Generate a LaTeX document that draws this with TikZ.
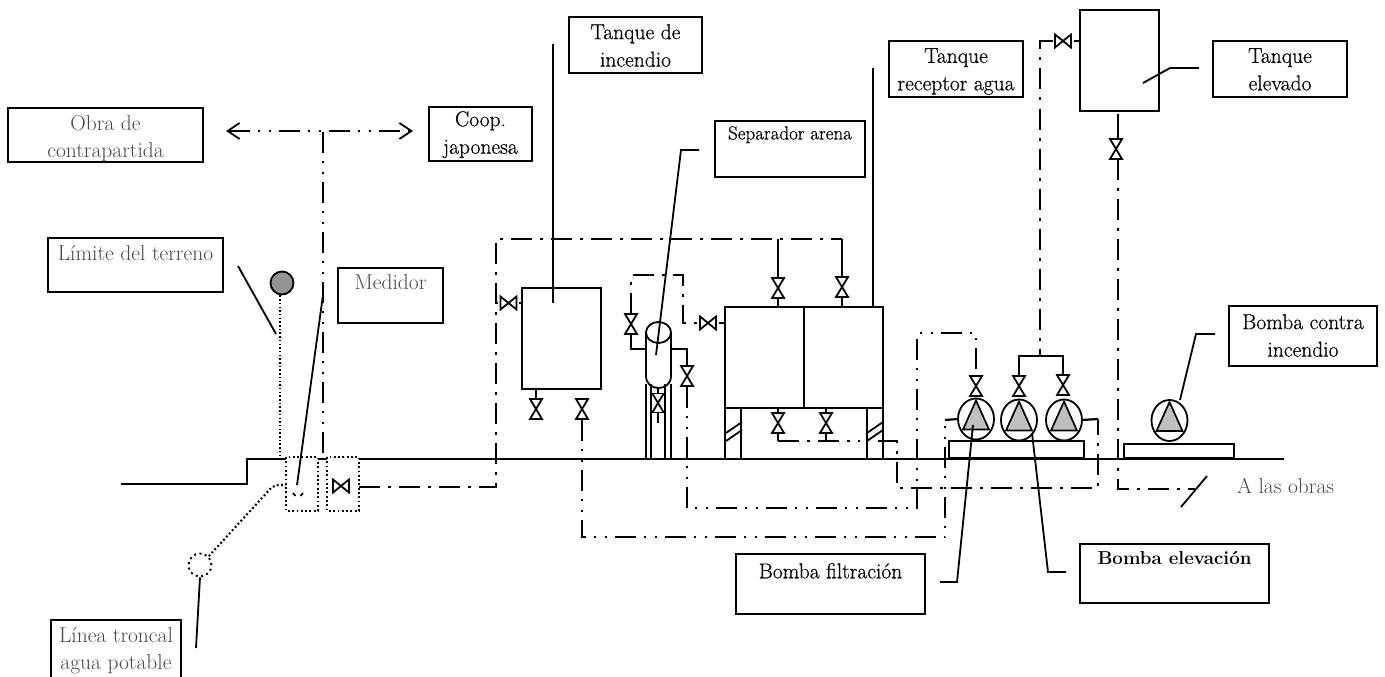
\documentclass[tikz,border=0pt]{standalone}
\usepackage{fontspec}
\setmainfont{Latin Modern Roman}
\newfontfamily\heavy[FakeBold=0.5]{Latin Modern Roman}
\usetikzlibrary{shapes.geometric,arrows.meta,calc}
\tikzset{
  ln/.style={line width=1.8pt,line join=miter},
  thick2/.style={line width=2.2pt},
  dd/.style={line width=2.4pt,dash pattern=on 21pt off 8pt on 3pt off 8pt},
  ddd/.style={line width=2.4pt,dash pattern=on 21pt off 8pt on 2pt off 9pt on 2pt off 8pt},
  dotl/.style={line width=1.8pt,dash pattern=on 1.8pt off 2.5pt},
  lbl/.style={draw,line width=1.8pt,anchor=north west,inner sep=0pt,outer sep=0pt},
  txt/.style={align=center,inner sep=0pt,font=\heavy\fontsize{21.5}{27.5}\selectfont},
  gtxt/.style={align=center,inner sep=0pt,font=\fontsize{21.5}{27.5}\selectfont,text=black!72},
  vvalve/.style={inner sep=0pt,outer sep=0pt,minimum width=15pt,minimum height=21pt,
    path picture={\draw[line width=1.8pt,line join=miter]
      ([shift={(-6,-10)}]path picture bounding box.center)--
      ([shift={(6,10)}]path picture bounding box.center)--
      ([shift={(-6,10)}]path picture bounding box.center)--
      ([shift={(6,-10)}]path picture bounding box.center)--cycle;}},
  hvalve/.style={inner sep=0pt,outer sep=0pt,minimum width=21pt,minimum height=15pt,
    path picture={\draw[line width=1.8pt,line join=miter]
      ([shift={(-8,-6.5)}]path picture bounding box.center)--
      ([shift={(8,6.5)}]path picture bounding box.center)--
      ([shift={(8,-6.5)}]path picture bounding box.center)--
      ([shift={(-8,6.5)}]path picture bounding box.center)--cycle;}},
  pump/.style={ellipse,draw,line width=1.8pt,inner sep=0pt,outer sep=0pt,minimum width=36pt,minimum height=41pt,
    path picture={\draw[line width=1.7pt,fill=black!25,line join=miter]
      ([shift={(0,-18.5)}]path picture bounding box.center)--
      ([shift={(13,10.5)}]path picture bounding box.center)--
      ([shift={(-13,10.5)}]path picture bounding box.center)--cycle;}},
  tank/.style={draw,line width=1.8pt,anchor=north west,inner sep=0pt,outer sep=0pt},
  mbarb/.style={{Straight Barb[length=12pt,width=16pt,line width=1.8pt]}-{Straight Barb[length=12pt,width=16pt,line width=1.8pt]}},
}
\begin{document}
\begin{tikzpicture}[x=1pt,y=-1pt]
\useasboundingbox (0,0) rectangle (1385,677);

% ---- label boxes
\node[lbl,minimum width=195pt,minimum height=54pt,label={[gtxt,anchor=north,yshift=-7pt]north:Obra de\\contrapartida}] (obra) at (8,108) {};
\node[lbl,minimum width=103pt,minimum height=54pt,label={[txt,anchor=north,yshift=-4pt]north:Coop.\\japonesa}] (coop) at (429,107) {};
\node[lbl,minimum width=175pt,minimum height=54pt,label={[gtxt,anchor=north,yshift=-7pt]north:Límite del terreno}] (limite) at (48,238) {};
\node[lbl,minimum width=105pt,minimum height=55pt,label={[gtxt,anchor=north,yshift=-6pt]north:Medidor}] (medidor) at (338,268) {};
\node[lbl,minimum width=130pt,minimum height=58pt,label={[gtxt,anchor=north,yshift=-7pt]north:Línea troncal\\agua potable}] (troncal) at (51,620) {};
\node[lbl,minimum width=133pt,minimum height=56pt,label={[txt,anchor=north,yshift=-7pt]north:Tanque de\\incendio}] (ltinc) at (569,17) {};
\node[lbl,minimum width=150pt,minimum height=56pt,label={[txt,anchor=north,yshift=-5pt,font=\heavy\fontsize{19}{22}\selectfont]north:Separador arena}] (lsep) at (715,121) {};
\node[lbl,minimum width=134pt,minimum height=56pt,label={[txt,anchor=north,yshift=-7pt]north:Tanque\\receptor agua}] (lrec) at (889,41) {};
\node[lbl,minimum width=134pt,minimum height=56pt,label={[txt,anchor=north,yshift=-7pt]north:Tanque\\elevado}] (lelev) at (1213,41) {};
\node[lbl,minimum width=148pt,minimum height=60pt,label={[txt,anchor=north,yshift=-8pt]north:Bomba contra\\incendio}] (lbci) at (1229,306) {};
\node[lbl,minimum width=189pt,minimum height=60pt,label={[txt,anchor=north,yshift=-9pt]north:Bomba filtración}] (lfil) at (736,554) {};
\node[lbl,minimum width=189pt,minimum height=59pt,label={[txt,anchor=north,yshift=-7pt,font=\fontsize{18.7}{27}\selectfont\bfseries]north:Bomba elevación}] (lbel) at (1080,544) {};
\node[gtxt,anchor=west] (alas) at (1237,486) {A las obras};

% ---- tanks and equipment
\node[tank,minimum width=79pt,minimum height=101pt] (tinc) at (522,288) {};
\node[tank,minimum width=79pt,minimum height=101pt] (telev) at (1080,10) {};
\node[tank,minimum width=79pt,minimum height=101pt] (trecL) at (725,307) {};
\node[tank,minimum width=79pt,minimum height=101pt] (trecR) at (804,307) {};
\draw[ln] (trecL.south west)--++(0,51);
\draw[ln] (741,408)--(741,459);
\draw[ln] (867,408)--(867,459);
\draw[ln] (trecR.south east)--++(0,51);
\foreach \xx in {726,867}{
  \draw[ln] (\xx,433)--++(16,-11);
  \draw[ln] (\xx,441)--++(16,-11);
}
\node[tank,minimum width=135pt,minimum height=17pt] (base1) at (949,441) {};
\node[tank,minimum width=110pt,minimum height=14pt] (base2) at (1124,444) {};

% ---- ground line
\draw[line width=2pt] (121,484)--(247,484)--(247,459)--(286,459);
\draw[line width=2pt] (318,459)--(327,459);
\draw[line width=2pt] (359,459)--(1284,459);

% ---- valves
\node[vvalve] (v1) at (536,409) {};
\node[vvalve] (v2) at (582,409) {};
\node[vvalve] (v3) at (631,324) {};
\node[vvalve] (v4) at (687,376) {};
\node[vvalve,minimum height=19pt] (v5) at (658,403) {};
\node[vvalve] (v6) at (778,288) {};
\node[vvalve] (v7) at (842,287) {};
\node[vvalve] (v8) at (778,423) {};
\node[vvalve] (v9) at (826,423) {};
\node[vvalve] (v10) at (976,386) {};
\node[vvalve] (v11) at (1019,386) {};
\node[vvalve] (v12) at (1063,385) {};
\node[vvalve] (v13) at (1116,149) {};
\node[hvalve] (h1) at (508.5,303) {};
\node[hvalve] (h2) at (708,323) {};
\node[hvalve] (h3) at (1063,41) {};
\node[hvalve] (h4) at (341,486) {};

% ---- pumps
\node[pump] (p1) at (976,419) {};
\node[pump] (p2) at (1019,420) {};
\node[pump] (p3) at (1064,420) {};
\node[pump] (p4) at (1169.5,420.5) {};

% ---- separator
\draw[ln] (646,332)--(646,376) .. controls (646,392) and (671,392) .. (671,376)--(671,332);
\node[ellipse,draw,line width=1.8pt,inner sep=0,minimum width=25pt,minimum height=21pt] (sep) at (658.5,332.5) {};
\foreach \xx in {646,651,665,671}{\draw[ln] (\xx,384)--(\xx,459);}

% ---- short solid stubs
\draw[thick2] (tinc.south -| v1)--(v1.north);
\draw[thick2] (658,388)--(v5.north);
\draw[thick2] (v5.south)--(658,423);
\draw[thick2] (v6.south)--(778,307);
\draw[thick2] (v7.south)--(842,307);
\draw[thick2] (778,408)--(v8.north);
\draw[thick2] (826,408)--(v9.north);
\draw[thick2] (v8.south)--(778,441);
\draw[thick2] (v9.south)--(826,441);
\draw[thick2] (h1.east)--(tinc.west |- h1);
\draw[thick2] (h2.east)--(725,323);
\draw[thick2] (h3.east)--(1080,41);
\draw[thick2] (1118,114)--(1118,138);

% ---- dash-dot pipes
\draw[dd] (359,487)--(496,487)--(496,239)--(842,239);
\draw[thick2] (842,239)--(v7.north);
\draw[thick2] (778,239)--(v6.north);
\draw[thick2] (496,303)--(h1.west);
\draw[dd] (v3.north)--(631,275)--(683,275)--(683,323)--(h2.west);
\draw[thick2] (646,349)--(631,349)--(v3.south);
\draw[thick2] (671,349)--(687,349)--(v4.north);
\draw[dd] (778,441)--(860,441);
\draw[dd] (878,441)--(897,441)--(897,488)--(1098,488)--(1098,419);
\draw[dd] (h3.west)--(1040,41)--(1040,356);
\draw[thick2] (1019,375)--(1019,356)--(1063,356)--(1063,375);
\draw[dd] (1118,159)--(1118,489)--(1195,489);
\draw[line width=1.8pt] (1207,476)--(1181,507);

% ---- dash-dot-dot pipes
\draw[ddd] (v4.south)--(687,508)--(917,508)--(917,333)--(976,333)--(v10.north);
\draw[ddd] (v2.south)--(582,537)--(945,537)--(945,420);
\draw[thick2] (945,420)--(p1.west);
\draw[thick2] (p3.east)--(1098,419);
\draw[ddd,line width=2pt] (323,132)--(323,458);
\draw[ddd,line width=1.9pt,mbarb] (226,131)--(413,131);

% ---- dotted parts
\draw[dotl] (286,457) rectangle (318,511);
\draw[dotl] (327,457) rectangle (359,511);
\node[circle,draw,fill=black!42,line width=1.8pt,minimum size=23pt,inner sep=0] (limc) at (282,283) {};
\draw[line width=1.5pt,dash pattern=on 1.5pt off 2.2pt] (limc.south -| 280,0)--(280,458);
\node[circle,draw,dash pattern=on 2pt off 3.5pt,line width=1.9pt,minimum size=23pt,inner sep=0] (main) at (200,565) {};
\draw[dotl,line width=2.1pt] (main.north east)--(272,487)--(278,485)--(286,485);
\draw[line width=1.7pt] (293,493)--(295.5,496) (303,493)--(300.5,496);

% ---- leaders
\coordinate (e1) at (238,266);
\coordinate (e2) at (276,334);
\draw[ln] (e1)--(e2);
\coordinate (e3) at (323,295);
\coordinate (e4) at (297,485);
\draw[ln] (e3)--(e4);
\draw[ln] (main.south)--(196,648);
\draw[ln] (553,44)--(553,303);
\draw[ln] (699,150)--(681,150)--(656,355);
\draw[ln] (873,68)--(873,307);
\draw[ln] (1199,68)--(1170,68)--(1143,83);
\draw[ln] (1215,334)--(1196,334)--(1180,400);
\draw[ln] (940,582)--(957,582)--(973,425);
\draw[ln] (1066,572)--(1048,572)--(1032,433);
\end{tikzpicture}
\end{document}
